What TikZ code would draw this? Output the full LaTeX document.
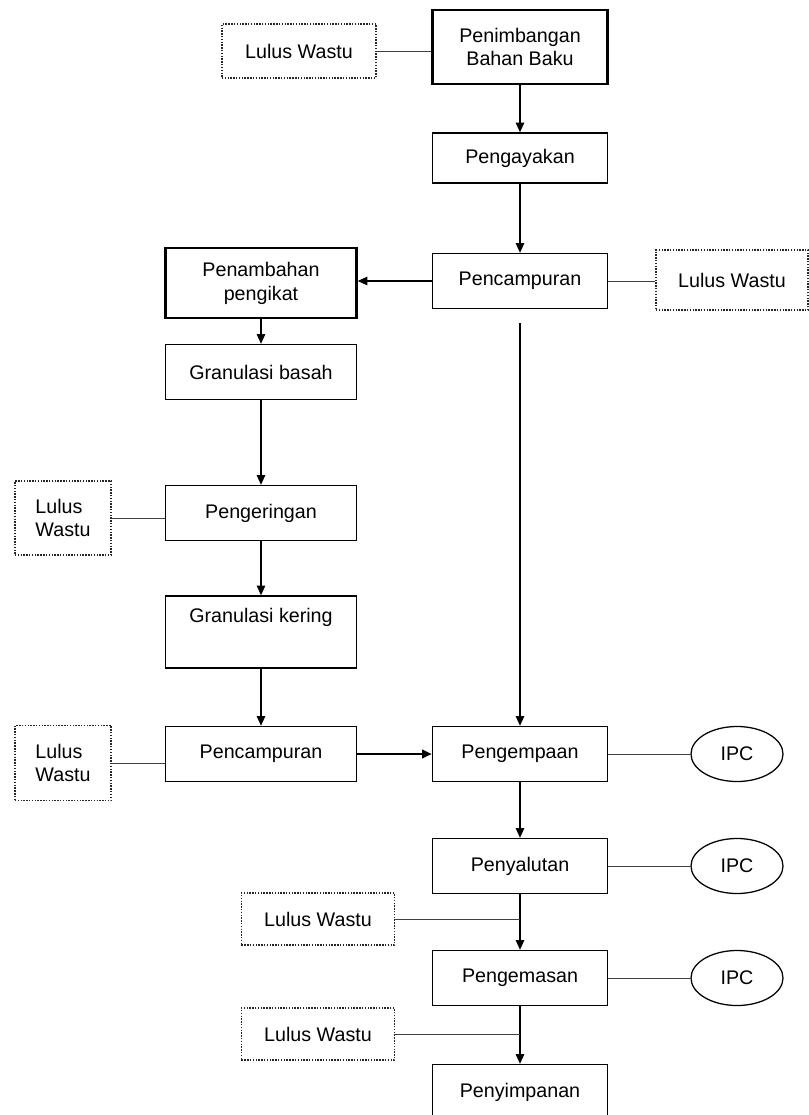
\documentclass[tikz,border=0pt]{standalone}
\usepackage{fontspec}
\setmainfont{Liberation Sans}
\usetikzlibrary{arrows.meta, calc, shapes.geometric}

\begin{document}
\begin{tikzpicture}[x=0.025cm, y=-0.025cm, >={Triangle[length=7pt, width=6pt]},
  proses/.style={draw, line width=0.9pt, minimum width=4.375cm, minimum height=1.375cm,
    align=center, inner sep=2pt, font=\fontsize{14}{17}\selectfont},
  kiri/.style={minimum width=4.775cm},
  tebal/.style={line width=1.6pt},
  lulus/.style={draw=black!85, dash pattern=on 1pt off 1pt, line width=0.9pt,
    inner sep=1pt, font=\fontsize{14}{17}\selectfont},
  ipc/.style={draw, ellipse, line width=0.9pt, minimum width=2.3cm, minimum height=1.375cm,
    inner sep=0pt, font=\fontsize{14}{17}\selectfont},
  panah/.style={->, line width=1.1pt},
  tipis/.style={draw=black!75, line width=0.7pt}]

  \useasboundingbox (0,0) rectangle (808,1115);

  % --- POSISI KOLOM ---
  \def\rx{520}
  \def\lx{261}

  % --- KOLOM KANAN ---
  \node[proses, tebal, minimum height=1.85cm] (pnb) at (\rx,47) {Penimbangan\\Bahan Baku};
  \node[proses, minimum height=1.25cm] (pgy) at (\rx,158) {Pengayakan};
  \node[proses] (pcr) at (\rx,281) {Pencampuran};
  \node[proses] (pgm) at (\rx,754) {Pengempaan};
  \node[proses] (psl) at (\rx,866) {Penyalutan};
  \node[proses] (pms) at (\rx,978) {Pengemasan};
  \node[proses] (psp) at (\rx,1092) {Penyimpanan};

  % --- KOLOM KIRI ---
  \node[proses, kiri, tebal, minimum height=1.75cm] (pgk) at (\lx,283) {Penambahan\\pengikat};
  \node[proses, kiri] (gbs) at (\lx,372) {Granulasi basah};
  \node[proses, kiri] (pgr) at (\lx,513) {Pengeringan};
  \node[proses, kiri, minimum height=1.8cm, text depth=0.85cm] (gkr) at (\lx,632) {Granulasi kering};
  \node[proses, kiri] (pcl) at (\lx,754) {Pencampuran};

  % --- LULUS WASTU ---
  \node[lulus, minimum width=3.85cm, minimum height=1.35cm] (lw1) at (299,51) {Lulus Wastu};
  \node[lulus, minimum width=3.8cm, minimum height=1.5cm] (lw2) at (732,280) {Lulus Wastu};
  \node[lulus, align=left, minimum width=2.4cm, minimum height=1.85cm] (lw3) at (63,518) {Lulus\\Wastu};
  \node[lulus, align=left, minimum width=2.4cm, minimum height=1.875cm] (lw4) at (63,763) {Lulus\\Wastu};
  \node[lulus, minimum width=3.825cm, minimum height=1.3cm] (lw5) at (318,919) {Lulus Wastu};
  \node[lulus, minimum width=3.825cm, minimum height=1.3cm] (lw6) at (318,1034) {Lulus Wastu};

  % --- IPC ---
  \node[ipc] (ipc1) at (737,754) {IPC};
  \node[ipc] (ipc2) at (737,866) {IPC};
  \node[ipc] (ipc3) at (737,978) {IPC};

  % --- ALUR UTAMA ---
  \draw[panah] (pnb) -- (pgy);
  \draw[panah] (pgy) -- (pcr);
  \draw[panah] (pcr.west) -- (pcr.west -| pgk.east);
  \draw[panah, shorten <=0.35cm] (pcr) -- (pgm); % langsung ke pengempaan
  \foreach \a/\b in {pgk/gbs, gbs/pgr, pgr/gkr, gkr/pcl} {
    \draw[panah] (\a) -- (\b);
  }
  \draw[panah, line width=1.8pt] (pcl) -- (pgm);
  \draw[panah] (pgm) -- (psl);
  \draw[panah] (psl) -- (pms);
  \draw[panah] (pms) -- (psp);

  % --- GARIS KE LULUS WASTU DAN IPC ---
  \draw[tipis] (lw1.east) -- (lw1.east -| pnb.west);
  \draw[tipis] (pcr.east) -- (pcr.east -| lw2.west);
  \draw[tipis] (lw3.east) -- (lw3.east -| pgr.west);
  \draw[tipis] (lw4.east) -- (lw4.east -| pcl.west);
  \coordinate (j1) at (lw5.east -| psl.south);
  \coordinate (j2) at (lw6.east -| pms.south);
  \draw[tipis] (lw5.east) -- (j1);
  \draw[tipis] (lw6.east) -- (j2);
  \foreach \p/\i in {pgm/ipc1, psl/ipc2, pms/ipc3} {
    \draw[tipis] (\p) -- (\i);
  }

\end{tikzpicture}
\end{document}
